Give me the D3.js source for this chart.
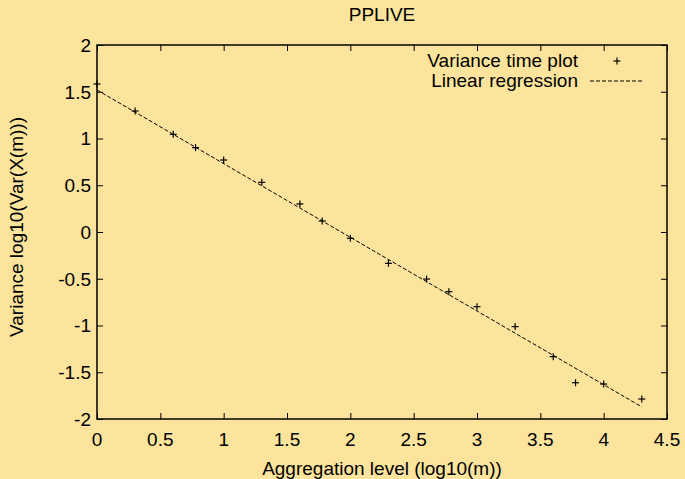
<!DOCTYPE html>
<html>
<head>
<meta charset="utf-8">
<script src="https://cdn.jsdelivr.net/npm/d3@7"></script>
<style>
  html, body { margin: 0; padding: 0; background: #fce49c; }
  svg { display: block; font-family: "Liberation Sans", Arial, sans-serif; }
</style>
</head>
<body>
<svg id="chart" width="685" height="479"></svg>
<script>
  // aggregation level log10(m), m = 1 .. 20000
  var aggLevels = [0, 0.301, 0.602, 0.778, 1, 1.301, 1.602, 1.778, 2, 2.301, 2.602, 2.778, 3, 3.301, 3.602, 3.778, 4, 4.301];
  // log10(Var(X(m)))
  var variances = [1.583, 1.294, 1.045, 0.902, 0.77, 0.531, 0.30, 0.118, -0.067, -0.335, -0.503, -0.638, -0.799, -1.012, -1.333, -1.612, -1.626, -1.786];
  // regression line end points
  var regX = [0, 4.301];
  var regY = [1.519, -1.870];

  var xTicks = [0, 0.5, 1, 1.5, 2, 2.5, 3, 3.5, 4, 4.5];
  var yTicks = [-2, -1.5, -1, -0.5, 0, 0.5, 1, 1.5, 2];

  var svg = d3.select('#chart'),
      margin = {top: 45, right: 18, bottom: 60, left: 97},
      width = +svg.attr('width') - margin.left - margin.right,
      height = +svg.attr('height') - margin.top - margin.bottom;

  svg.append('rect')
      .attr('width', 685).attr('height', 479)
      .attr('fill', '#fce49c');

  var g = svg.append('g').attr('transform', 'translate(' + margin.left + ',' + margin.top + ')');

  var fontSize = 19;

  var x = d3.scaleLinear().domain([0, 4.5]).range([0, width]);
  var y = d3.scaleLinear().domain([-2, 2]).range([height, 0]);

  // inner ticks, mirrored on all four sides
  var tickLen = 6;
  function tickAxis(axisFn, transform) {
    var a = g.append('g')
        .attr('transform', transform)
        .call(axisFn.tickSize(-tickLen).tickFormat(''));
    a.select('.domain').remove();
    a.selectAll('line').attr('stroke', '#000').attr('stroke-width', 1);
  }
  tickAxis(d3.axisBottom(x).tickValues(xTicks), 'translate(0,' + height + ')');
  tickAxis(d3.axisTop(x).tickValues(xTicks), 'translate(0,0)');
  tickAxis(d3.axisLeft(y).tickValues(yTicks), 'translate(0,0)');
  tickAxis(d3.axisRight(y).tickValues(yTicks), 'translate(' + width + ',0)');

  // tick labels
  g.append('g').selectAll('text')
      .data(xTicks)
      .enter().append('text')
      .attr('x', function (d) { return x(d); })
      .attr('y', height + 27)
      .attr('text-anchor', 'middle')
      .attr('font-size', fontSize)
      .text(function (d) { return d; });

  g.append('g').selectAll('text')
      .data(yTicks)
      .enter().append('text')
      .attr('x', -6)
      .attr('y', function (d) { return y(d); })
      .attr('dy', '0.36em')
      .attr('text-anchor', 'end')
      .attr('font-size', fontSize)
      .text(function (d) { return d; });

  // border
  g.append('rect')
      .attr('width', width)
      .attr('height', height)
      .attr('fill', 'none')
      .attr('stroke', '#000')
      .attr('stroke-width', 1.5);

  // regression line
  var line = d3.line()
      .x(function (d) { return x(d[0]); })
      .y(function (d) { return y(d[1]); });

  g.append('path')
      .datum(d3.zip(regX, regY))
      .attr('d', line)
      .attr('fill', 'none')
      .attr('stroke', '#000')
      .attr('stroke-width', 1)
      .attr('stroke-dasharray', '4,2');

  // variance points as '+'
  var ps = 3.5;
  function plus(sel) {
    sel.append('line').attr('x1', -ps).attr('x2', ps).attr('y1', 0).attr('y2', 0);
    sel.append('line').attr('x1', 0).attr('x2', 0).attr('y1', -ps).attr('y2', ps);
  }

  g.append('g')
      .attr('class', 'dots')
      .attr('stroke', '#000')
      .attr('stroke-width', 1.2)
      .selectAll('g')
      .data(d3.zip(aggLevels, variances))
      .enter().append('g')
      .attr('transform', function (d) { return 'translate(' + x(d[0]) + ',' + y(d[1]) + ')'; })
      .call(plus);

  // legend
  var legend = svg.append('g').attr('font-size', fontSize);
  legend.append('text')
      .attr('x', 578).attr('y', 67)
      .attr('text-anchor', 'end')
      .text('Variance time plot');
  legend.append('text')
      .attr('x', 578).attr('y', 87)
      .attr('text-anchor', 'end')
      .text('Linear regression');
  legend.append('g')
      .attr('transform', 'translate(617,61)')
      .attr('stroke', '#000')
      .attr('stroke-width', 1.2)
      .call(plus);
  legend.append('line')
      .attr('x1', 590).attr('x2', 643)
      .attr('y1', 81).attr('y2', 81)
      .attr('stroke', '#000')
      .attr('stroke-width', 1)
      .attr('stroke-dasharray', '4,2');

  // title and axis labels
  svg.append('text')
      .attr('x', margin.left + width / 2)
      .attr('y', 21)
      .attr('text-anchor', 'middle')
      .attr('font-size', fontSize)
      .text('PPLIVE');

  svg.append('text')
      .attr('x', margin.left + width / 2)
      .attr('y', 475)
      .attr('text-anchor', 'middle')
      .attr('font-size', fontSize)
      .text('Aggregation level (log10(m))');

  svg.append('text')
      .attr('transform', 'translate(23,227) rotate(-90)')
      .attr('text-anchor', 'middle')
      .attr('font-size', fontSize)
      .text('Variance log10(Var(X(m)))');
</script>
</body>
</html>
